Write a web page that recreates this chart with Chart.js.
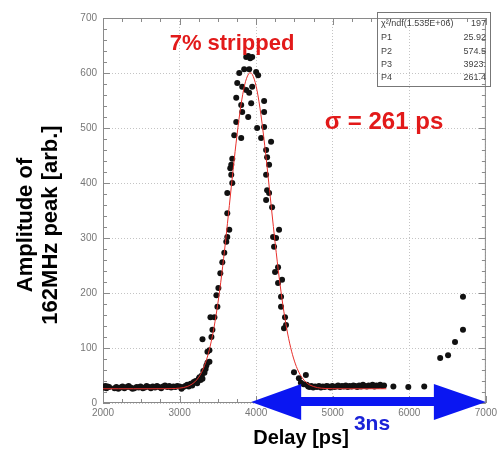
<!DOCTYPE html>
<html>
<head>
<meta charset="utf-8">
<script src="https://cdn.jsdelivr.net/npm/chart.js@4.4.1/dist/chart.umd.min.js"></script>
<style>
  html, body { margin: 0; padding: 0; background: #fff; }
</style>
</head>
<body>
<canvas id="delayChart" width="501" height="450"></canvas>
<script>
// measured points (delay in ps, amplitude in arb. units)
const delayPs = [
  2015, 2030, 2045, 2060, 2080, 2150, 2175, 2200, 2230, 2255, 2280, 2310, 2335, 2360, 2385,
  2410, 2440, 2465, 2490, 2520, 2545, 2570, 2600, 2625, 2650, 2680, 2705, 2730, 2760, 2785,
  2810, 2840, 2865, 2890, 2920, 2945, 2970, 3000, 3025, 3050, 3075, 3100, 3120, 3145, 3165,
  3185, 3210, 3230, 3250, 3260, 3275, 3290, 3299, 3310, 3325, 3340, 3350, 3364, 3390, 3364,
  3390, 3299, 3416, 3429, 3403, 3455, 3494, 3481, 3507, 3532, 3558, 3584, 3610, 3623, 3649,
  3623, 3623, 3688, 3675, 3662, 3675, 3688, 3714, 3740, 3740, 3753, 3779, 3805, 3818, 3818,
  3844, 3870, 3870, 3896, 3909, 3909, 3935, 3948, 3948, 3805, 3896, 3922,
  4000, 4026, 4104, 4104, 4013, 4104, 4065, 4195, 4130, 4143, 4169, 4130, 4143, 4169, 4130,
  4208, 4299, 4221, 4260, 4234, 4286, 4247, 4338, 4286, 4325, 4325, 4377, 4390, 4364, 4494,
  4558, 4584, 4649, 4620,
  4660, 4680, 4700, 4720, 4745, 4770, 4795, 4820, 4845, 4870, 4895, 4920, 4945, 4970, 4995,
  5020, 5045, 5070, 5095, 5120, 5145, 5170, 5195, 5220, 5245, 5270, 5295, 5320, 5345, 5370,
  5395, 5420, 5445, 5470, 5495, 5520, 5545, 5570, 5595, 5620, 5645, 5670,
  5792, 5987, 6195, 6403, 6506, 6597, 6701, 6701
]
const amplitude = [
  28, 31, 27, 30, 29, 27, 29, 26, 28, 30, 27, 29, 31, 28, 26,
  27, 29, 28, 30, 27, 28, 31, 29, 27, 30, 28, 31, 29, 27, 30,
  32, 29, 31, 28, 30, 29, 31, 30, 26, 29, 31, 33, 30, 35, 32,
  38, 40, 36, 44, 47, 42, 50, 44, 58, 55, 62, 68, 73, 75, 93,
  96, 116, 120, 133, 156, 156, 175, 196, 209, 236, 256, 273, 293, 302, 315,
  345, 382, 400, 415, 427, 433, 444, 487, 511, 555, 582, 600, 542, 575, 529,
  607, 629, 569, 520, 607, 564, 545, 629, 575, 482, 631, 627,
  602, 596, 549, 529, 500, 502, 482, 475, 460, 447, 433, 415, 387, 382, 369,
  356, 315, 302, 300, 284, 247, 238, 224, 218, 193, 175, 156, 142, 136, 56,
  45, 37, 51, 34,
  33, 30, 29, 31, 28, 30, 29, 31, 28, 30, 29, 31, 30, 28, 31,
  29, 30, 32, 29, 31, 30, 32, 29, 31, 30, 32, 31, 29, 32, 30,
  33, 31, 30, 32, 31, 33, 30, 32, 31, 33, 31, 32,
  30, 29, 30, 82, 87, 111, 133, 193
]

// gaussian fit curve
const fitDelay = [
  2000, 2200, 2400, 2600, 2800, 2900, 3000, 3100, 3200, 3250, 3300, 3350, 3400, 3450, 3500,
  3550, 3600, 3650, 3700, 3750, 3800, 3850, 3900, 3923, 3950, 4000, 4050, 4100, 4150, 4200,
  4250, 4300, 4350, 4400, 4450, 4500, 4550, 4600, 4650, 4700, 4800, 4900, 5000, 5200, 5400, 5700
]
const fitAmp = [
  25.9, 25.9, 25.9, 25.9, 26.0, 26.2, 27.0, 30.0, 38.4, 46.8, 59.5, 77.9, 103.5, 137.7, 181.0,
  233.4, 293.6, 359.1, 425.2, 487.3, 540.1, 578.4, 598.2, 600.4, 597.4, 576.0, 536.3, 482.6, 420.0, 353.6,
  288.6, 229.0, 177.2, 134.6, 101.2, 76.2, 58.2, 46.0, 37.9, 32.8, 28.0, 26.4, 26.0, 25.9, 25.9, 25.9
]

const xTicks = [2000, 3000, 4000, 5000, 6000, 7000]
const yTicks = [0, 100, 200, 300, 400, 500, 600, 700]

const xTitle = 'Delay [ps]'
const yTitle = ['Amplitude of', '162MHz peak [arb.]']

const statNames = ['\u03C7\u00B2/ndf(1.535E+06)', 'P1', 'P2', 'P3', 'P4']
const statValues = ['197', '25.92', '574.5', '3923.', '261.4']

let points = []
for (let i = 0; i < delayPs.length; i++) {
  points.push({ x: delayPs[i], y: amplitude[i] })
}
let fitPoints = []
for (let i = 0; i < fitDelay.length; i++) {
  fitPoints.push({ x: fitDelay[i], y: fitAmp[i] })
}

const FONT = "'Liberation Sans', Arial, sans-serif"

// frame, inward ticks, titles and the slide annotations
const decorPlugin = {
  id: 'decor',
  beforeDatasetsDraw(chart) {
    const { ctx, chartArea: a, scales: { x, y } } = chart
    ctx.save()
    ctx.strokeStyle = '#8a8a8a'
    ctx.lineWidth = 1
    ctx.strokeRect(a.left + 0.5, a.top + 0.5, a.right - a.left - 1, a.bottom - a.top - 1)
    ctx.beginPath()
    for (let v = 2000; v <= 7000; v += 250) {
      const px = Math.round(x.getPixelForValue(v)) + 0.5
      const len = v % 1000 === 0 ? 7 : 4
      ctx.moveTo(px, a.bottom)
      ctx.lineTo(px, a.bottom - len)
      ctx.moveTo(px, a.top)
      ctx.lineTo(px, a.top + len)
    }
    for (let v = 0; v <= 700; v += 20) {
      const py = Math.round(y.getPixelForValue(v)) + 0.5
      const len = v % 100 === 0 ? 7 : 4
      ctx.moveTo(a.left, py)
      ctx.lineTo(a.left + len, py)
      ctx.moveTo(a.right, py)
      ctx.lineTo(a.right - len, py)
    }
    ctx.stroke()
    ctx.restore()
  },
  afterDraw(chart) {
    const { ctx, scales: { x } } = chart
    ctx.save()

    // axis titles
    ctx.fillStyle = '#000'
    ctx.textAlign = 'center'
    ctx.textBaseline = 'middle'
    ctx.font = 'bold 20px ' + FONT
    ctx.fillText(xTitle, 301, 438)
    ctx.save()
    ctx.translate(26, 225)
    ctx.rotate(-Math.PI / 2)
    ctx.font = 'bold 22px ' + FONT
    ctx.fillText(yTitle[0], 0, 0)
    ctx.fillText(yTitle[1], 0, 25)
    ctx.restore()

    // stats box
    const bx = 377, by = 12, bw = 113, bh = 74
    ctx.strokeStyle = '#777'
    ctx.lineWidth = 1
    ctx.strokeRect(bx + 0.5, by + 0.5, bw, bh)
    ctx.font = '9px ' + FONT
    ctx.fillStyle = '#444'
    const rowY = [24, 38, 52, 65, 78]
    for (let i = 0; i < statNames.length; i++) {
      ctx.textAlign = 'left'
      ctx.fillText(statNames[i], bx + 4, rowY[i])
      ctx.textAlign = 'right'
      ctx.fillText(statValues[i], bx + bw - 4, rowY[i])
    }

    // red annotations
    ctx.fillStyle = '#e21a1a'
    ctx.textAlign = 'center'
    ctx.font = 'bold 22px ' + FONT
    ctx.fillText('7% stripped', 232, 44)
    ctx.font = 'bold 24px ' + FONT
    ctx.fillText('\u03C3 = 261 ps', 384, 122)

    // blue double arrow, 3 ns
    const x0 = x.getPixelForValue(3935)
    const x1 = x.getPixelForValue(7000)
    const cy = 402
    ctx.fillStyle = '#0a16f2'
    ctx.beginPath()
    ctx.moveTo(x0, cy)
    ctx.lineTo(x0 + 50, cy - 18)
    ctx.lineTo(x0 + 50, cy - 5)
    ctx.lineTo(x1 - 52, cy - 5)
    ctx.lineTo(x1 - 52, cy - 18)
    ctx.lineTo(x1, cy)
    ctx.lineTo(x1 - 52, cy + 18)
    ctx.lineTo(x1 - 52, cy + 4)
    ctx.lineTo(x0 + 50, cy + 4)
    ctx.lineTo(x0 + 50, cy + 18)
    ctx.closePath()
    ctx.fill()
    ctx.font = 'bold 21px ' + FONT
    ctx.fillStyle = '#1a22d8'
    ctx.fillText('3ns', 372, 424)
    ctx.restore()
  },
}

new Chart(document.getElementById('delayChart'), {
  type: 'scatter',
  data: {
    datasets: [
      {
        label: 'fit',
        data: fitPoints,
        showLine: true,
        borderColor: '#e8302c',
        borderWidth: 1,
        pointRadius: 0,
        cubicInterpolationMode: 'monotone',
        order: 0,
      },
      {
        label: 'data',
        data: points,
        backgroundColor: '#111',
        borderWidth: 0,
        pointRadius: 3,
        order: 1,
      },
    ],
  },
  options: {
    responsive: false,
    animation: false,
    layout: { padding: { left: 0, top: 18, right: 13, bottom: 0 } },
    plugins: { legend: { display: false }, tooltip: { enabled: false } },
    scales: {
      x: {
        type: 'linear',
        min: 2000,
        max: 7000,
        afterBuildTicks: (scale) => { scale.ticks = xTicks.map((v) => ({ value: v })) },
        afterFit: (scale) => { scale.height = 47 },
        ticks: { color: '#777', padding: 4, font: { family: FONT, size: 10 }, callback: (v) => String(v) },
        grid: { color: '#c4c4c4', drawTicks: false },
        border: { display: false, dash: [1, 2] },
      },
      y: {
        min: 0,
        max: 700,
        afterBuildTicks: (scale) => { scale.ticks = yTicks.map((v) => ({ value: v })) },
        afterFit: (scale) => { scale.width = 103 },
        ticks: { color: '#777', padding: 6, font: { family: FONT, size: 10 }, callback: (v) => String(v) },
        grid: { color: '#c4c4c4', drawTicks: false },
        border: { display: false, dash: [1, 2] },
      },
    },
  },
  plugins: [decorPlugin],
})
</script>
</body>
</html>
